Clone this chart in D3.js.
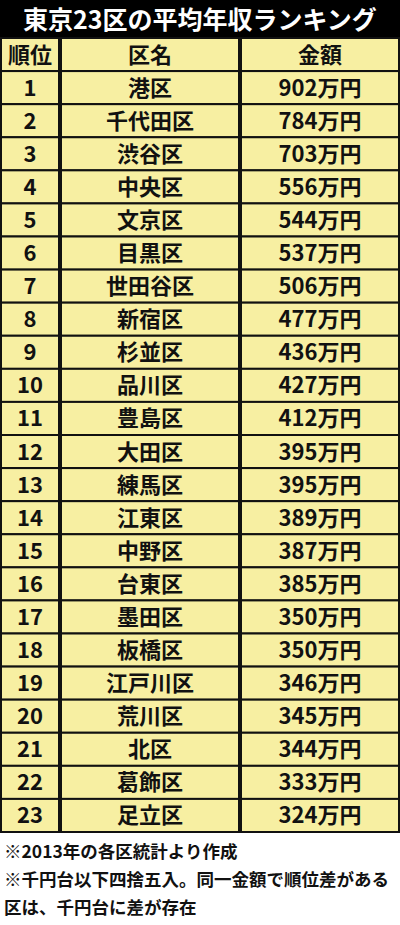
<!DOCTYPE html>
<html><head><meta charset="utf-8">
<script src="https://cdn.jsdelivr.net/npm/d3@7"></script>
<style>body{margin:0;background:#fff;font-family:"Noto Sans CJK JP",sans-serif;}</style>
</head><body><div id="chart"></div>
<script>
const title = "東京23区の平均年収ランキング";
const headers = ["順位", "区名", "金額"];
const wards = ["港区","千代田区","渋谷区","中央区","文京区","目黒区","世田谷区","新宿区","杉並区","品川区","豊島区","大田区","練馬区","江東区","中野区","台東区","墨田区","板橋区","江戸川区","荒川区","北区","葛飾区","足立区"];
const incomes = [902,784,703,556,544,537,506,477,436,427,412,395,395,389,387,385,350,350,346,345,344,333,324];
const notes = ["※2013年の各区統計より作成","※千円台以下四捨五入。同一金額で順位差がある","区は、千円台に差が存在"];

const W = 400, H = 925;
const svg = d3.select("#chart").append("svg").attr("width", W).attr("height", H);
const rows = wards.map((w, i) => ({rank: i + 1, ward: w, income: incomes[i]}));

const x = d3.scaleOrdinal().domain(headers).range([0, 60, 240]);
const colW = {"順位": 60, "区名": 180, "金額": 160};
const y = d3.scaleBand().domain(d3.range(rows.length + 1)).range([38, 832]);

svg.append("rect").attr("x", 0).attr("y", 0).attr("width", W).attr("height", 38).attr("fill", "#000");
svg.append("text").attr("x", W / 2).attr("y", 29).attr("text-anchor", "middle")
  .attr("fill", "#fff").attr("font-size", 25).attr("font-weight", 700).text(title);

const all = [headers].concat(rows.map(r => [String(r.rank), r.ward, r.income + "万円"]));
const g = svg.append("g").selectAll("g").data(all).join("g")
  .attr("transform", (d, i) => `translate(0,${y(i)})`);
g.selectAll("rect").data(d => d.map((v, j) => ({v, h: headers[j]}))).join("rect")
  .attr("x", d => x(d.h) + 1).attr("y", 0).attr("width", d => colW[d.h] - 2).attr("height", y.bandwidth())
  .attr("fill", "#f7efa2").attr("stroke", "#111").attr("stroke-width", 2);
g.selectAll("text").data(d => d.map((v, j) => ({v, h: headers[j]}))).join("text")
  .attr("x", d => x(d.h) + colW[d.h] / 2).attr("y", y.bandwidth() / 2 + 8)
  .attr("text-anchor", "middle").attr("font-size", 22).attr("font-weight", 700).attr("fill", "#111")
  .text(d => d.v);

svg.append("g").selectAll("text").data(notes).join("text")
  .attr("x", 4).attr("y", (d, i) => 858 + i * 28)
  .attr("font-size", 17.5).attr("font-weight", 700).attr("fill", "#111").text(d => d);
</script></body></html>
